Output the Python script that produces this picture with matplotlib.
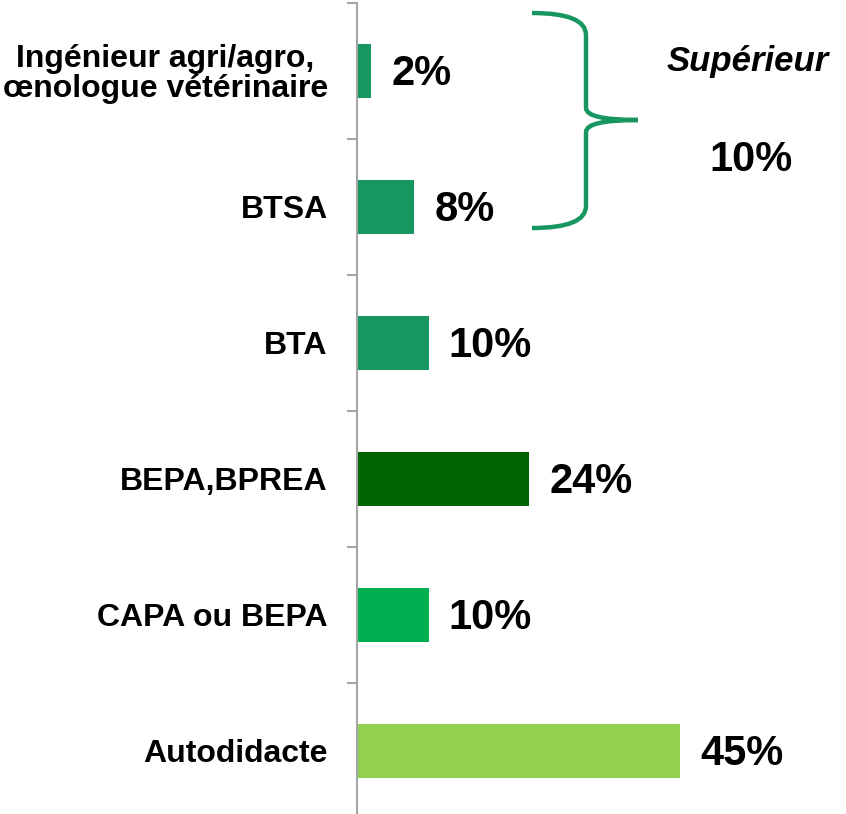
import numpy as np
import matplotlib
matplotlib.use("Agg")
import matplotlib.pyplot as plt
from matplotlib.path import Path
from matplotlib.patches import PathPatch

plt.rcParams['font.family'] = ['Liberation Sans', 'DejaVu Sans']

# Données
categories = ["Ingénieur agri/agro,\nœnologue vétérinaire", "BTSA", "BTA",
              "BEPA,BPREA", "CAPA ou BEPA", "Autodidacte"]
valeurs = [2, 8, 10, 24, 10, 45]
etiquettes = ["2%", "8%", "10%", "24%", "10%", "45%"]
couleurs = ["#179662", "#179662", "#179662", "#006400", "#00B050", "#92D050"]
groupe_titre = "Supérieur"
groupe_valeur = "10%"

fig = plt.figure(figsize=(8.46, 8.14), dpi=100)
ax = fig.add_axes([357 / 846, -5 / 814, 1 - 357 / 846, 816 / 814])

y = np.arange(len(categories))
ax.barh(y, valeurs, height=0.4, color=couleurs)
ax.set_ylim(len(categories) - 0.5, -0.5)
px = 1 / 7.18  # largeur d'un pixel en unités de %
ax.set_xlim(0, 489 * px)

for yi, v, lab in zip(y, valeurs, etiquettes):
    ax.text(v + 20 * px, yi + 3 / 136, lab, ha='left', va='center',
            fontsize=30, fontweight='bold')

# axes
for s in ['top', 'right', 'bottom']:
    ax.spines[s].set_visible(False)
ax.spines['left'].set_color('#A6A6A6')
ax.spines['left'].set_linewidth(1.5)
ax.set_xticks([])
ax.set_yticks(np.arange(-0.5, len(categories) + 0.5, 1))
ax.set_yticklabels([])
ax.tick_params(axis='y', which='major', length=7, width=1.5, color='#A6A6A6')
ax.set_yticks(y, minor=True)
ax.set_yticklabels(categories, minor=True, fontsize=23, fontweight='bold')
ax.tick_params(axis='y', which='minor', length=0, pad=21)
for t in ax.get_yticklabels(minor=True):
    t.set_multialignment('center')
    t.set_linespacing(1.0)

# accolade "Supérieur"
def pt(xp, yp):
    return ((xp - 357) * px, -0.5 + (yp - 3) / 136)

verts = [pt(532, 13), pt(586, 13), pt(586, 35), pt(586, 108),
         pt(586, 120), pt(638, 120), pt(586, 120), pt(586, 132),
         pt(586, 206), pt(586, 228), pt(532, 228)]
codes = [Path.MOVETO, Path.CURVE3, Path.CURVE3, Path.LINETO,
         Path.CURVE3, Path.CURVE3, Path.CURVE3, Path.CURVE3,
         Path.LINETO, Path.CURVE3, Path.CURVE3]
ax.add_patch(PathPatch(Path(verts, codes), facecolor='none',
                       edgecolor='#179662', linewidth=3.2, clip_on=False))

ax.text(*pt(748, 62), groupe_titre, ha='center', va='center',
        fontsize=25, fontweight='bold', fontstyle='italic')
ax.text(*pt(751, 160), groupe_valeur, ha='center', va='center',
        fontsize=30, fontweight='bold')

fig.savefig("out.png", dpi=100)
